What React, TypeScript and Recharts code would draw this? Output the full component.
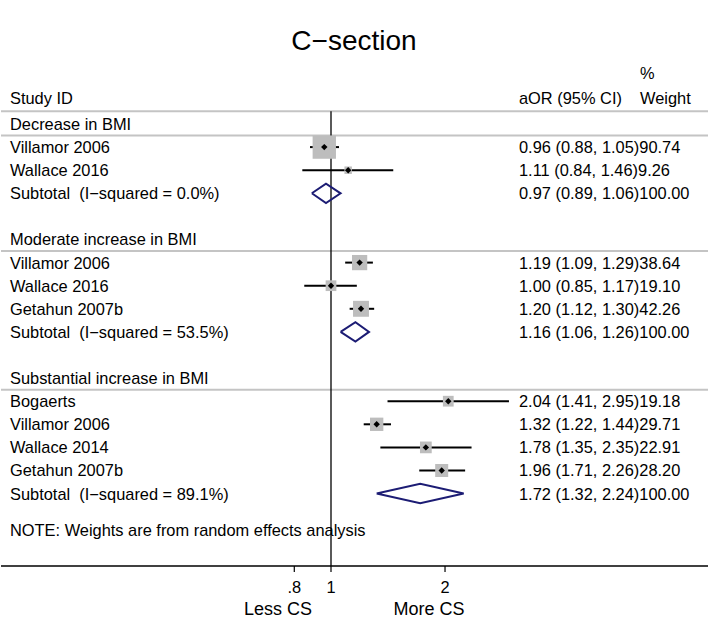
import React from 'react';
import { ComposedChart, Scatter, XAxis, YAxis, ErrorBar, ReferenceLine } from 'recharts';

// forest plot data
const groupNames = ['Decrease in BMI', 'Moderate increase in BMI', 'Substantial increase in BMI'];

const studyGroup = [0, 0, 1, 1, 1, 2, 2, 2, 2];
const studyNames = [
  'Villamor 2006', 'Wallace 2016',
  'Villamor 2006', 'Wallace 2016', 'Getahun 2007b',
  'Bogaerts', 'Villamor 2006', 'Wallace 2014', 'Getahun 2007b',
];
const studyOR = [0.96, 1.11, 1.19, 1.0, 1.2, 2.04, 1.32, 1.78, 1.96];
const studyLo = [0.88, 0.84, 1.09, 0.85, 1.12, 1.41, 1.22, 1.35, 1.71];
const studyHi = [1.05, 1.46, 1.29, 1.17, 1.3, 2.95, 1.44, 2.35, 2.26];
const studyWeight = [90.74, 9.26, 38.64, 19.1, 42.26, 19.18, 29.71, 22.91, 28.2];

const subtotalI2 = ['0.0', '53.5', '89.1'];
const subtotalOR = [0.97, 1.16, 1.72];
const subtotalLo = [0.89, 1.06, 1.32];
const subtotalHi = [1.06, 1.26, 2.24];

const xTicks = [0.8, 1, 2];

// layout
const W = 708;
const H = 622;
const PLOT_H = 566;
const Y_AXIS_W = 1; // an axis of width 0 draws no ticks
const ROW_PX = 23.1;
const FIRST_ROW_Y = 124;
const X_ONE = 331; // pixel of OR = 1
const PX_PER_LN = 164.5;
const SQ_K = 2.45; // square side per sqrt(weight)
const DIAMOND_HALF = 0.42; // rows
const HEADER_LINE = -0.55;
const FONT = '"Liberation Sans", Arial, Helvetica, sans-serif';
const FS = 16.4;
const NAVY = '#1c1c74';
const GRAY_LINE = '#c4c4c4';

const yDomain = [-FIRST_ROW_Y / ROW_PX, (PLOT_H - FIRST_ROW_Y) / ROW_PX];
const xDomain = [Math.exp(-(X_ONE - Y_AXIS_W) / PX_PER_LN), Math.exp((W - X_ONE) / PX_PER_LN)];

const fmt = (or: number, lo: number, hi: number, w: number) =>
  `${or.toFixed(2)} (${lo.toFixed(2)}, ${hi.toFixed(2)})${w.toFixed(2)}`;

type Row = { y: number; left: string; right: string };
const rows: Row[] = [];
const studyPts: any[] = [];
const diamonds: any[][] = [];
const sepLines: number[] = [HEADER_LINE];

let r = 0;
groupNames.forEach((g, gi) => {
  rows.push({ y: r, left: g, right: '' });
  sepLines.push(r + 0.5);
  r++;
  studyGroup.forEach((sg, i) => {
    if (sg !== gi) return;
    rows.push({ y: r, left: studyNames[i], right: fmt(studyOR[i], studyLo[i], studyHi[i], studyWeight[i]) });
    studyPts.push({
      x: studyOR[i],
      y: r,
      w: studyWeight[i],
      err: [studyOR[i] - studyLo[i], studyHi[i] - studyOR[i]],
    });
    r++;
  });
  rows.push({
    y: r,
    left: `Subtotal  (I\u2212squared = ${subtotalI2[gi]}%)`,
    right: fmt(subtotalOR[gi], subtotalLo[gi], subtotalHi[gi], 100),
  });
  diamonds.push([
    { x: subtotalLo[gi], y: r },
    { x: subtotalOR[gi], y: r - DIAMOND_HALF },
    { x: subtotalHi[gi], y: r },
    { x: subtotalOR[gi], y: r + DIAMOND_HALF },
    { x: subtotalLo[gi], y: r },
  ]);
  r += 2;
});
const noteRow = r - 0.42;
rows.push({ y: noteRow, left: 'NOTE: Weights are from random effects analysis', right: '' });

const rowMap = new Map(rows.map((row) => [row.y, row]));

const RowTick = (props: any) => {
  const row = rowMap.get(props.payload.value);
  if (!row) return null;
  return (
    <g>
      <text x={10} y={props.y} dy="0.36em" fontSize={FS} fontFamily={FONT} fill="#000" style={{ whiteSpace: 'pre' }}>
        {row.left}
      </text>
      {row.right && (
        <text x={519} y={props.y} dy="0.36em" fontSize={FS} fontFamily={FONT} fill="#000">
          {row.right}
        </text>
      )}
    </g>
  );
};

const SquareMark = (props: any) => {
  const s = SQ_K * Math.sqrt(props.payload.w);
  return <rect x={props.cx - s / 2} y={props.cy - s / 2} width={s} height={s} fill="#bdbdbd" />;
};

const PointMark = (props: any) => {
  const { cx, cy } = props;
  const d = 3.2;
  return <polygon points={`${cx - d},${cy} ${cx},${cy - d} ${cx + d},${cy} ${cx},${cy + d}`} fill="#000" />;
};

const NoMark = () => <g />;

const textStyle = { fontSize: FS, fontFamily: FONT, fill: '#000' };

export default function App() {
  return (
    <div style={{ width: W, height: H, background: '#fff' }}>
      <style>{'body{margin:0;background:#fff}'}</style>
      <ComposedChart width={W} height={H} margin={{ top: 0, right: 0, bottom: 0, left: 0 }}>
        <XAxis
          dataKey="x"
          type="number"
          scale="log"
          domain={xDomain}
          allowDataOverflow
          ticks={xTicks}
          interval={0}
          height={H - PLOT_H}
          tickFormatter={(v: number) => (v < 1 ? String(v).replace(/^0/, '') : String(v))}
          axisLine={{ stroke: '#000', strokeWidth: 1.5 }}
          tickLine={{ stroke: '#000', strokeWidth: 1.2 }}
          tickSize={6}
          tickMargin={9}
          tick={{ fontSize: FS, fontFamily: FONT, fill: '#000' }}
        />
        <YAxis
          dataKey="y"
          type="number"
          domain={yDomain}
          reversed
          allowDataOverflow
          width={Y_AXIS_W}
          ticks={rows.map((row) => row.y)}
          interval={0}
          axisLine={false}
          tickLine={false}
          tick={<RowTick />}
        />
        {sepLines.map((v) => (
          <ReferenceLine key={v} y={v} stroke={GRAY_LINE} strokeWidth={2} />
        ))}
        <ReferenceLine
          segment={[
            { x: 1, y: HEADER_LINE },
            { x: 1, y: yDomain[1] },
          ]}
          stroke="#000"
          strokeWidth={1.3}
        />
        <Scatter data={studyPts} shape={<SquareMark />} isAnimationActive={false} />
        <Scatter data={studyPts} shape={<PointMark />} isAnimationActive={false}>
          <ErrorBar dataKey="err" direction="x" width={0} stroke="#000" strokeWidth={2} />
        </Scatter>
        {diamonds.map((pts, i) => (
          <Scatter
            key={i}
            data={pts}
            line={{ stroke: NAVY, strokeWidth: 2 }}
            lineJointType="linear"
            shape={<NoMark />}
            isAnimationActive={false}
          />
        ))}
        <text x={354} y={40} dy="0.36em" textAnchor="middle" fontSize={28} fontFamily={FONT} fill="#000">
          C{'\u2212'}section
        </text>
        <text x={640} y={73} dy="0.36em" {...textStyle}>%</text>
        <text x={10} y={98} dy="0.36em" {...textStyle}>Study ID</text>
        <text x={519} y={98} dy="0.36em" {...textStyle}>aOR (95% CI)</text>
        <text x={640} y={98} dy="0.36em" {...textStyle}>Weight</text>
        <text x={278} y={609} dy="0.36em" textAnchor="middle" fontSize={18} fontFamily={FONT} fill="#000">Less CS</text>
        <text x={429} y={609} dy="0.36em" textAnchor="middle" fontSize={18} fontFamily={FONT} fill="#000">More CS</text>
      </ComposedChart>
    </div>
  );
}
